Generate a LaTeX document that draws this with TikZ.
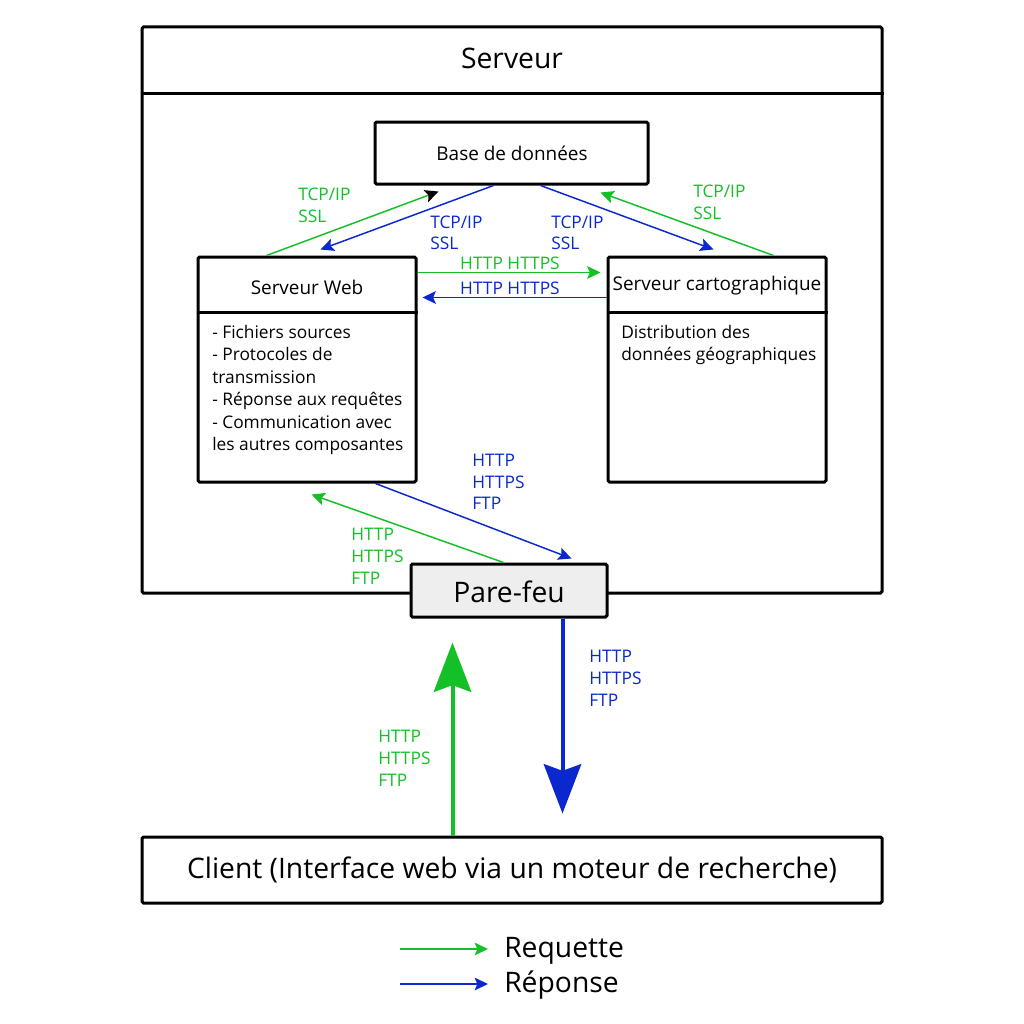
\documentclass[tikz,border=0pt]{standalone}
\usepackage{fontspec}
\setmainfont{Open Sans}
\usetikzlibrary{arrows.meta,calc,fit}
\definecolor{reqgreen}{RGB}{20,192,40}
\definecolor{repblue}{RGB}{10,40,205}
\definecolor{fwgray}{RGB}{238,238,238}
\tikzset{
  box/.style={draw=black, line width=2.25pt, rounded corners=1.2pt, inner sep=0pt},
  small/.style={font=\fontsize{13}{16}\selectfont, inner sep=0pt},
  title/.style={font=\fontsize{14.2}{17}\selectfont, inner sep=0pt},
  large/.style={font=\fontsize{21.2}{25}\selectfont, inner sep=0pt},
  glab/.style={small, text=reqgreen, anchor=base west},
  blab/.style={small, text=repblue, anchor=base west},
  thinhead/.style={-{Stealth[length=10pt, width=9.5pt, inset=2pt]}},
  req/.style={draw=reqgreen, line width=1.1pt, thinhead},
  rep/.style={draw=repblue, line width=1.1pt, thinhead},
  bighead/.style={-{Stealth[length=37pt, width=28pt, inset=5pt]}},
  reqbig/.style={draw=reqgreen, line width=3pt, bighead},
  repbig/.style={draw=repblue, line width=3pt, bighead},
}
\begin{document}
\begin{tikzpicture}[x=0.75pt, y=-0.75pt]
\useasboundingbox (0,0) rectangle (1024,1024);
\fill[white] (0,0) rectangle (1024,1024);

% outer server box
\node[box, fit={(142,27)(882,593)}] (srv) {};
\draw[line width=2.25pt] (srv.west |- 0,94) -- (srv.east |- 0,94);
\node[large, anchor=base] (srvt) at (512,69) {Serveur};

% database
\node[box, fill=white, fit={(375,122)(648,184)}] (db) {};
\node[title, anchor=base] (dbt) at (512,160) {Base de données};

% web server
\node[box, fill=white, fit={(198,257)(416,482)}] (web) {};
\draw[line width=2.25pt] (web.west |- 0,312) -- (web.east |- 0,312);
\node[title, anchor=base] (webt) at (307,294) {Serveur Web};
\node[small, anchor=base west] (w1) at (212,338) {- Fichiers sources};
\node[small, anchor=base west] (w2) at (212,360.5) {- Protocoles de};
\node[small, anchor=base west] (w3) at (212,383) {transmission};
\node[small, anchor=base west] (w4) at (212,405.5) {- Réponse aux requêtes};
\node[small, anchor=base west] (w5) at (212,428) {- Communication avec};
\node[small, anchor=base west] (w6) at (212,450.5) {les autres composantes};

% map server
\node[box, fill=white, fit={(608,257)(826,482)}] (carto) {};
\draw[line width=2.25pt] (carto.west |- 0,312) -- (carto.east |- 0,312);
\node[title, anchor=base] (cartot) at (717,290) {Serveur cartographique};
\node[small, anchor=base west] (c1) at (621,338) {Distribution des};
\node[small, anchor=base west] (c2) at (621,360.5) {données géographiques};

% firewall
\node[box, fill=fwgray, fit={(411,564)(607,617)}] (fw) {};
\node[large, anchor=base] (fwt) at (509,602) {Pare-feu};

% client
\node[box, fill=white, fit={(142,837)(882,903)}] (cl) {};
\node[large, anchor=base] (clt) at (512,878) {Client (Interface web via un moteur de recherche)};

% DB <-> web
\draw[draw=reqgreen, line width=1.1pt, -{Stealth[length=10pt, width=9.5pt, inset=2pt, color=black]}]
  ($(web.north west)+(70,0)$) -- ($(db.south west)+(65,6)$);
\draw[rep] ($(db.south west)+(120,0)$) -- ($(web.north west)+(124,-6)$);
\node[glab] (l1a) at (298,200) {TCP/IP};
\node[glab] (l1b) at (298,222) {SSL};
\node[blab] (l2a) at (430,228) {TCP/IP};
\node[blab] (l2b) at (430,249) {SSL};

% DB <-> carto
\draw[rep] ($(db.south west)+(167,0)$) -- ($(carto.north west)+(107,-6)$);
\draw[req] ($(carto.north west)+(167,0)$) -- ($(db.south west)+(227,7)$);
\node[blab] (l3a) at (551,228) {TCP/IP};
\node[blab] (l3b) at (551,249) {SSL};
\node[glab] (l4a) at (693,197) {TCP/IP};
\node[glab] (l4b) at (693,219) {SSL};

% web <-> carto
\draw[req] ($(web.north east)+(0,17)$) -- ($(carto.north west)+(-6,17)$);
\draw[rep] ($(carto.north west)+(0,42)$) -- ($(web.north east)+(5,42)$);
\node[small, text=reqgreen, anchor=base] (l5) at (510,269) {HTTP HTTPS};
\node[small, text=repblue, anchor=base] (l6) at (510,294) {HTTP HTTPS};

% web <-> firewall
\draw[rep] ($(web.south west)+(179,0)$) -- ($(fw.north west)+(162,-4)$);
\draw[req] ($(fw.north west)+(94,0)$) -- ($(web.south west)+(115,11)$);
\node[blab] (l7a) at (472,466) {HTTP};
\node[blab] (l7b) at (472,488) {HTTPS};
\node[blab] (l7c) at (472,509) {FTP};
\node[glab] (l8a) at (351,540) {HTTP};
\node[glab] (l8b) at (351,562) {HTTPS};
\node[glab] (l8c) at (351,584) {FTP};

% client <-> firewall
\draw[reqbig] ($(cl.north west)+(312,0)$) -- ($(fw.south west)+(43,24)$);
\draw[repbig] ($(fw.south west)+(153,0)$) -- ($(cl.north west)+(422,-22)$);
\node[blab] (l9a) at (589,662) {HTTP};
\node[blab] (l9b) at (589,684) {HTTPS};
\node[blab] (l9c) at (589,706) {FTP};
\node[glab] (l10a) at (378,742) {HTTP};
\node[glab] (l10b) at (378,764) {HTTPS};
\node[glab] (l10c) at (378,786) {FTP};

% legend
\node[large, anchor=base west] (lgr) at (504,957) {Requette};
\node[large, anchor=base west] (lgb) at (504,992) {Réponse};
\coordinate (lg1) at (400,949);
\coordinate (lg1e) at (488,949);
\coordinate (lg2) at (400,984);
\coordinate (lg2e) at (488,984);
\draw[req] (lg1) -- (lg1e);
\draw[rep] (lg2) -- (lg2e);
\end{tikzpicture}
\end{document}
